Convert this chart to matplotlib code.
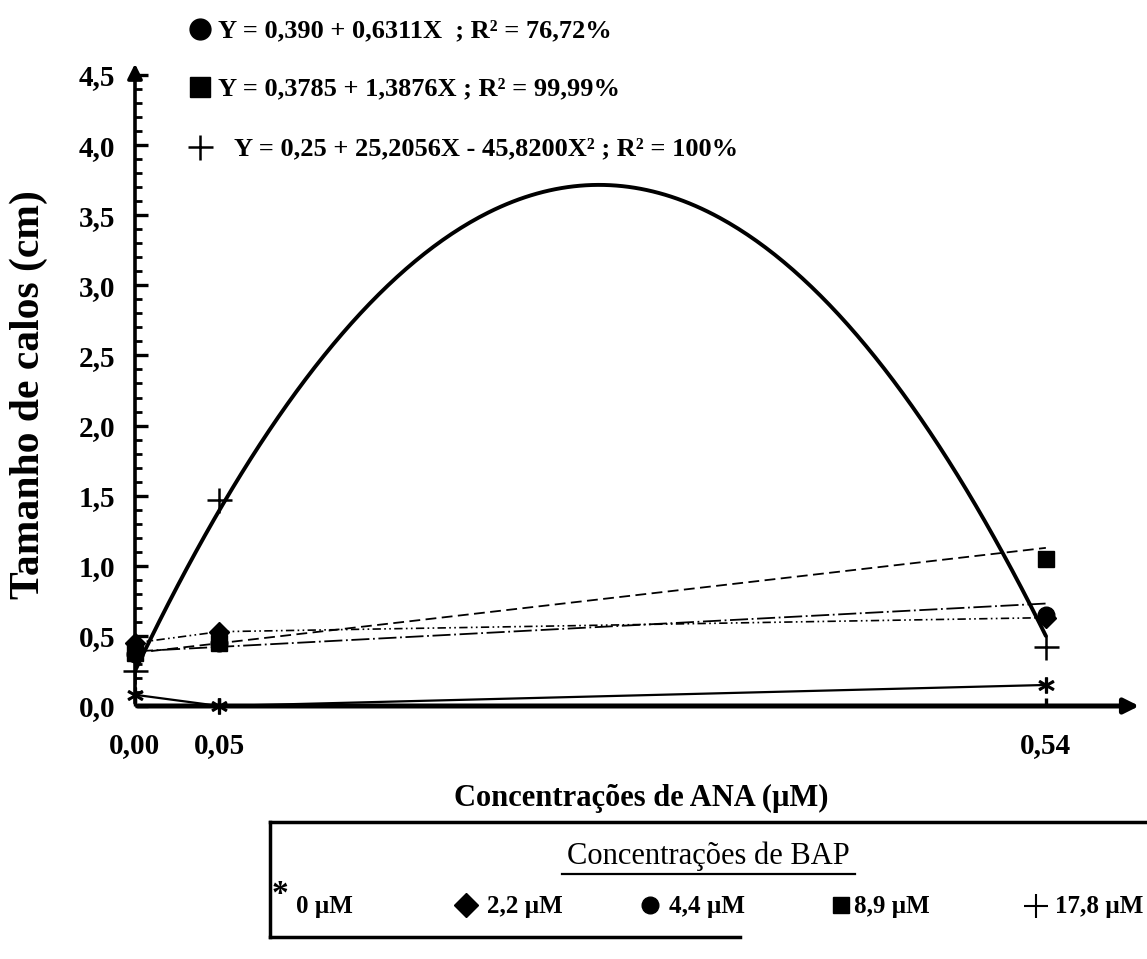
import numpy as np
import matplotlib
matplotlib.use("Agg")
import matplotlib.pyplot as plt
from matplotlib.lines import Line2D

# ---------------- data ----------------
ana = [0.00, 0.05, 0.54]                 # Concentrações de ANA (µM)
bap_0 = [0.08, 0.00, 0.15]               # 0 µM BAP
bap_2_2 = [0.45, 0.53, 0.63]             # 2,2 µM BAP
bap_4_4 = [0.37, 0.45, 0.65]             # 4,4 µM BAP
bap_8_9 = [0.38, 0.45, 1.05]             # 8,9 µM BAP
bap_17_8 = [0.25, 1.47, 0.42]            # 17,8 µM BAP

# regression coefficients (from the equations printed on the chart)
coef_4_4 = [0.390, 0.6311]
coef_8_9 = [0.3785, 1.3876]
coef_17_8 = [0.25, 25.2056, -45.8200]

x_ticks = [0.00, 0.05, 0.54]
x_ticklabels = ["0,00", "0,05", "0,54"]
y_ticks = [0.0, 0.5, 1.0, 1.5, 2.0, 2.5, 3.0, 3.5, 4.0, 4.5]
y_ticklabels = ["0,0", "0,5", "1,0", "1,5", "2,0", "2,5", "3,0", "3,5", "4,0", "4,5"]

eq_texts = ["Y = 0,390 + 0,6311X  ; R² = 76,72%",
            "Y = 0,3785 + 1,3876X ; R² = 99,99%",
            "Y = 0,25 + 25,2056X - 45,8200X² ; R² = 100%"]
legend_labels = ["0 µM", "2,2 µM", "4,4 µM", "8,9 µM", "17,8 µM"]

SERIF = "Liberation Serif"
W, H = 1147, 959

fig = plt.figure(figsize=(W / 100, H / 100), dpi=100)
fig.patch.set_facecolor("white")

def fx(px):
    return px / W

def fy(py):
    return 1 - py / H

x_max, y_max = 0.597, 4.6
left_px, zero_px = 135, 706
ax = fig.add_axes([fx(left_px), fy(zero_px), (1142 - left_px) / W, (zero_px - 61) / H])
ax.set_xlim(0, x_max)
ax.set_ylim(0, y_max)
for s in ax.spines.values():
    s.set_visible(False)

# axes with arrows
ax.annotate("", xy=(0, 1), xytext=(0, 0), xycoords="axes fraction",
            arrowprops=dict(arrowstyle="-|>", lw=2.6, color="black", mutation_scale=22))
ax.annotate("", xy=(1, 0), xytext=(0, 0), xycoords="axes fraction",
            arrowprops=dict(arrowstyle="-|>", lw=3.6, color="black", mutation_scale=22))

# ticks
ax.set_yticks(y_ticks)
ax.set_yticklabels(y_ticklabels)
ax.set_yticks(np.arange(0, 4.55, 0.1), minor=True)
ax.set_xticks(x_ticks)
ax.set_xticklabels(x_ticklabels)
ax.tick_params(axis="y", which="major", direction="in", length=9, width=2.4, pad=14,
               labelsize=21)
ax.tick_params(axis="y", which="minor", direction="in", length=5, width=2.0)
ax.tick_params(axis="x", which="major", direction="in", length=6, width=2.4, pad=19,
               labelsize=21)
for lab in ax.get_xticklabels() + ax.get_yticklabels():
    lab.set_fontfamily(SERIF)
    lab.set_fontweight("bold")

# fitted curves
xs = np.linspace(ana[0], ana[-1], 300)
ax.plot(xs, np.polyval(coef_17_8[::-1], xs), color="black", lw=2.8, solid_capstyle="round")
ax.plot(xs, np.polyval(coef_8_9[::-1], xs), color="black", lw=1.3, ls=(0, (6, 3)))
ax.plot(xs, np.polyval(coef_4_4[::-1], xs), color="black", lw=1.3, ls=(0, (10, 2, 1, 2)))
# observed connections for series without equations
ax.plot(ana, bap_2_2, color="black", lw=1.2, ls=(0, (5, 2, 1, 2, 1, 2)))
ax.plot(ana, bap_0, color="black", lw=1.6)

# markers
mk = dict(color="black", ls="none", clip_on=False, zorder=5)
ax.plot(ana, bap_0, marker="$*$", ms=11, **mk)
ax.plot(ana, bap_2_2, marker="D", ms=10, **mk)
ax.plot(ana, bap_4_4, marker="o", ms=12, **mk)
ax.plot(ana, bap_8_9, marker="s", ms=11, **mk)
ax.plot(ana, bap_17_8, marker="+", ms=18, markeredgewidth=1.8, **mk)

# axis labels
fig.text(fx(29), fy(395), "Tamanho de calos (cm)", rotation=90, ha="center", va="center",
         fontsize=30, fontweight="bold", family=SERIF)
fig.text(fx(641), fy(798), "Concentrações de ANA (µM)", ha="center", va="center",
         fontsize=22, fontweight="bold", family=SERIF)

# equations at top
eq_markers = ["o", "s", "+"]
eq_y = [31, 89, 149]
eq_x = [218, 218, 234]
for m, y, x0, t in zip(eq_markers, eq_y, eq_x, eq_texts):
    fig.add_artist(Line2D([fx(200)], [fy(y - 2)], marker=m, color="black",
                          ms=15 if m != "+" else 18, markeredgewidth=1.8 if m == "+" else 1,
                          ls="none", transform=fig.transFigure))
    fig.text(fx(x0), fy(y), t, ha="left", va="center", fontsize=19, fontweight="bold",
             family=SERIF)

# legend box
lw_box = 2.5
box_l, box_t, box_b = 270, 822, 937
fig.add_artist(Line2D([fx(box_l), fx(1147)], [fy(box_t), fy(box_t)], color="black", lw=lw_box,
                      transform=fig.transFigure))
fig.add_artist(Line2D([fx(box_l), fx(740)], [fy(box_b), fy(box_b)], color="black", lw=lw_box,
                      transform=fig.transFigure))
fig.add_artist(Line2D([fx(box_l), fx(box_l)], [fy(box_t), fy(box_b)], color="black", lw=lw_box,
                      transform=fig.transFigure))
fig.text(fx(708), fy(856), "Concentrações de BAP", ha="center", va="center", fontsize=22,
         family=SERIF)
fig.add_artist(Line2D([fx(562), fx(855)], [fy(874), fy(874)], color="black", lw=1.6,
                      transform=fig.transFigure))

leg_markers = ["*", "D", "o", "s", "+"]
leg_mx = [280, 466, 650, 841, 1036]
leg_my = [891, 905, 905, 905, 906]
leg_tx = [296, 487, 669, 854, 1055]
for m, mx, my, tx, lab in zip(leg_markers, leg_mx, leg_my, leg_tx, legend_labels):
    if m == "*":
        fig.text(fx(mx), fy(my + 4), "*", ha="center", va="center", fontsize=24,
                 fontweight="bold", family=SERIF)
    else:
        fig.add_artist(Line2D([fx(mx)], [fy(my)], marker=m, color="black",
                              ms={"D": 12, "o": 12, "s": 11, "+": 17}[m],
                              markeredgewidth=1.5 if m == "+" else 1, ls="none",
                              transform=fig.transFigure))
    fig.text(fx(tx), fy(906), lab, ha="left", va="center", fontsize=18, fontweight="bold",
             family=SERIF)

fig.savefig("out.png", dpi=100)
